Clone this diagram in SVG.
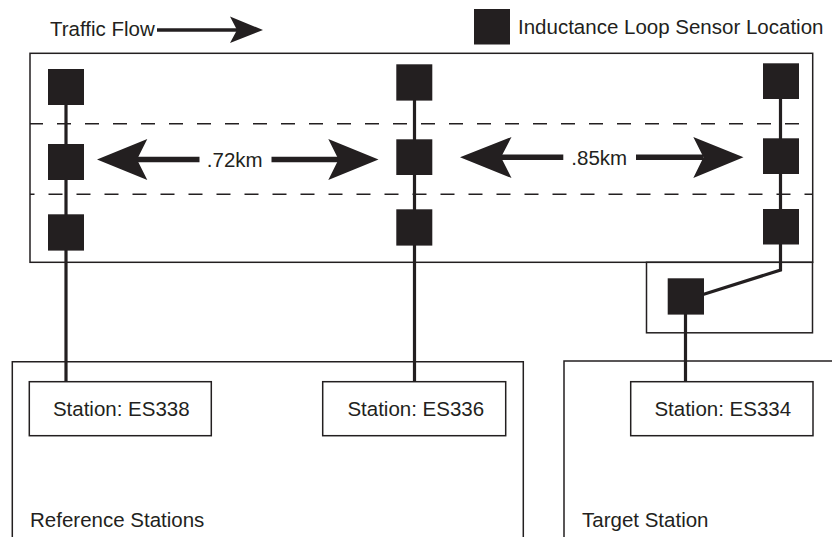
<svg xmlns="http://www.w3.org/2000/svg" width="832" height="537" viewBox="0 0 832 537">
<style>
text{font-family:"Liberation Sans",Arial,sans-serif;font-size:20.5px;fill:#231f20}
.box{fill:none;stroke:#231f20;stroke-width:1.5}
.sq{fill:#231f20}
.wire{fill:none;stroke:#231f20;stroke-width:3.2}
.dash{fill:none;stroke:#231f20;stroke-width:1.5;stroke-dasharray:14 14}
.shaft{stroke:#231f20;stroke-width:5.5}
.head{fill:#231f20}
</style>
<rect width="832" height="537" fill="#ffffff"/>

<g id="legend">
<rect class="sq" x="474" y="9" width="36" height="35.5"/>
<text x="518" y="33.5">Inductance Loop Sensor Location</text>
</g>

<g id="traffic-flow">
<text x="50" y="36">Traffic Flow</text>
<line x1="157" y1="30" x2="238" y2="30" stroke="#231f20" stroke-width="3.5"/>
<polygon class="head" points="263,30 230,16.5 237,30 230,43"/>
</g>

<g id="road">
<rect class="box" x="30" y="53.3" width="782.7" height="209"/>
<line class="dash" x1="30" y1="123.7" x2="812.7" y2="123.7" stroke-dashoffset="1"/>
<line class="dash" x1="30" y1="194.3" x2="812.7" y2="194.3" stroke-dasharray="13 15" stroke-dashoffset="9.5"/>
</g>

<g id="region-reference">
<path class="box" d="M12.3,540 V361.7 H523.3 V540"/>
<text x="30" y="527">Reference Stations</text>
</g>

<g id="region-target">
<path class="box" d="M564,540 V361 H836"/>
<text x="582" y="527">Target Station</text>
</g>

<g id="target-sensor-box">
<rect class="box" x="646.5" y="262.3" width="166" height="70.5"/>
</g>

<g id="connectors">
<line class="wire" x1="66" y1="86" x2="66" y2="382"/>
<line class="wire" x1="414.5" y1="82" x2="414.5" y2="382"/>
<polyline class="wire" points="780.5,81 780.5,270 703,294.5"/>
<line class="wire" x1="685.5" y1="296" x2="685.5" y2="382"/>
</g>

<g id="sensors-es338">
<rect class="sq" x="48" y="69" width="36" height="36"/>
<rect class="sq" x="48" y="144" width="36" height="36"/>
<rect class="sq" x="48" y="214.3" width="36" height="36.3"/>
</g>

<g id="sensors-es336">
<rect class="sq" x="396.3" y="64.3" width="36" height="36.3"/>
<rect class="sq" x="396.3" y="139.3" width="36" height="35.7"/>
<rect class="sq" x="396.3" y="209.3" width="36" height="36.3"/>
</g>

<g id="sensors-es334">
<rect class="sq" x="763" y="63.3" width="36" height="35.7"/>
<rect class="sq" x="763" y="138.3" width="36" height="35.7"/>
<rect class="sq" x="763" y="209" width="36" height="35.5"/>
<rect class="sq" x="667.7" y="278.3" width="36.3" height="36.3"/>
</g>

<g id="distance-072">
<polygon class="head" points="97,159.5 147.3,139 137,159.5 147.3,180"/>
<line class="shaft" x1="137" y1="159.5" x2="199.5" y2="159.5"/>
<text x="234.7" y="166.8" text-anchor="middle">.72km</text>
<line class="shaft" x1="271.5" y1="159.5" x2="339" y2="159.5"/>
<polygon class="head" points="378.5,159.5 328.3,139 338.5,159.5 328.3,180"/>
</g>

<g id="distance-085">
<polygon class="head" points="460,157.3 511.5,137 501,157.3 511.5,178"/>
<line class="shaft" x1="501" y1="157.3" x2="563.3" y2="157.3"/>
<text x="599.2" y="164.6" text-anchor="middle">.85km</text>
<line class="shaft" x1="636" y1="157.3" x2="703.5" y2="157.3"/>
<polygon class="head" points="743.5,157.3 693.3,137 703.5,157.3 693.3,178"/>
</g>

<g id="station-es338">
<rect class="box" x="29.3" y="381.7" width="182" height="54"/>
<text x="121.3" y="416" text-anchor="middle">Station: ES338</text>
</g>

<g id="station-es336">
<rect class="box" x="322.7" y="381.7" width="183" height="54"/>
<text x="415.8" y="416" text-anchor="middle">Station: ES336</text>
</g>

<g id="station-es334">
<rect class="box" x="630.7" y="381.7" width="182.3" height="54"/>
<text x="722.8" y="416" text-anchor="middle">Station: ES334</text>
</g>
</svg>
